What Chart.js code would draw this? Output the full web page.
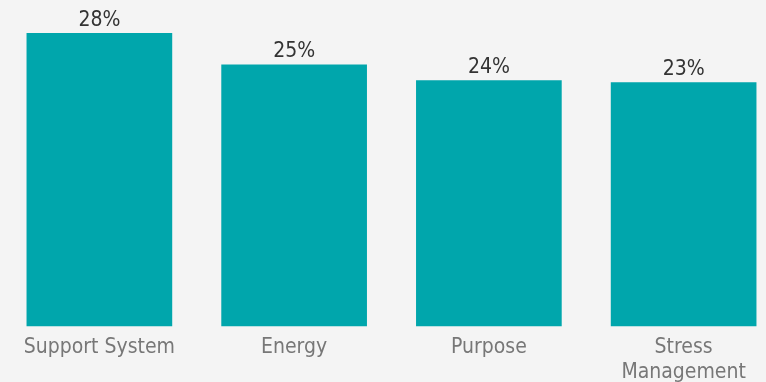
<!DOCTYPE html>
<html>
<head>
<meta charset="utf-8">
<script src="https://cdn.jsdelivr.net/npm/chart.js@4/dist/chart.umd.min.js"></script>
<style>
  html, body { margin: 0; padding: 0; background: #f4f4f4; overflow: hidden; }
  #wrap { position: absolute; left: 0; top: 0; width: 781px; height: 393px; }
</style>
</head>
<body>
<div id="wrap"><canvas id="barChart"></canvas></div>
<script>
const labelsBar = ["Support System", "Energy", "Purpose", ["Stress", "Management"]];
const valuesBar = [28, 25, 23.5, 23.3];

const fontFamily = "'DejaVu Sans Condensed', 'DejaVu Sans', sans-serif";

// draws the percent over every bar
const percentLabels = {
  id: "percentLabels",
  afterDatasetsDraw(chart) {
    const ctx = chart.ctx;
    ctx.save();
    ctx.font = "21px " + fontFamily;
    ctx.fillStyle = "#333333";
    ctx.textAlign = "center";
    ctx.textBaseline = "alphabetic";
    chart.getDatasetMeta(0).data.forEach((bar, i) => {
      ctx.fillText(Math.round(valuesBar[i]) + "%", bar.x, bar.y - 7);
    });
    ctx.restore();
  },
};

const dataBar = {
  labels: labelsBar,
  datasets: [
    {
      label: "Share",
      backgroundColor: "#00a6ac",
      borderWidth: 0,
      categoryPercentage: 1,
      barPercentage: 0.748,
      data: valuesBar,
    },
  ],
};

const configBar = {
  type: "bar",
  data: dataBar,
  plugins: [percentLabels],
  options: {
    responsive: true,
    maintainAspectRatio: false,
    animation: false,
    layout: {
      padding: { top: 33, left: 2, right: 0, bottom: 0 },
    },
    scales: {
      x: {
        grid: { display: false, drawTicks: false },
        border: { display: false },
        ticks: {
          color: "#777777",
          padding: 8,
          maxRotation: 0,
          autoSkip: false,
          font: { family: fontFamily, size: 21, lineHeight: 1.2 },
        },
      },
      y: {
        display: false,
        min: 0,
        max: 28,
      },
    },
    plugins: {
      legend: { display: false },
      tooltip: { enabled: false },
    },
  },
};

var myBarChart = new Chart(document.getElementById("barChart"), configBar);
</script>
</body>
</html>
